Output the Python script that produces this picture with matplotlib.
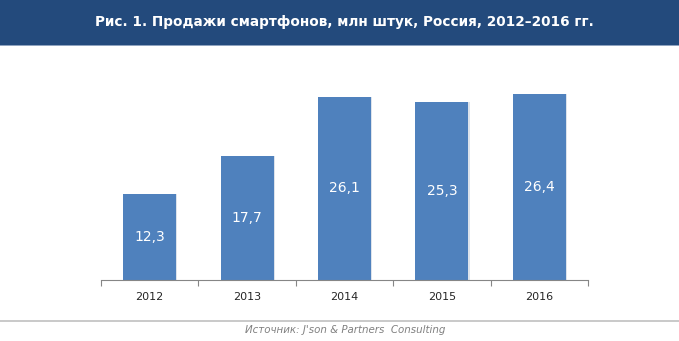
import matplotlib.pyplot as plt
from matplotlib.patches import Rectangle

years = ['2012', '2013', '2014', '2015', '2016']
sales = [12.3, 17.7, 26.1, 25.3, 26.4]
labels = ['12,3', '17,7', '26,1', '25,3', '26,4']

W, H = 679, 341
fig = plt.figure(figsize=(W / 100, H / 100), dpi=100)
fig.patch.set_facecolor('white')

# title band
fig.patches.append(Rectangle((0, 1 - 45 / H), 1, 45 / H, transform=fig.transFigure,
                             facecolor='#234a7c', edgecolor='none', zorder=0))
fig.patches.append(Rectangle((0, 1 - 46 / H), 1, 1.2 / H, transform=fig.transFigure,
                             facecolor='#8fa3bf', edgecolor='none', zorder=0))
fig.text(344 / W, 1 - 22 / H, 'Рис. 1. Продажи смартфонов, млн штук, Россия, 2012–2016 гг.',
         ha='center', va='center', color='white', fontsize=9.8, fontweight='bold',
         family='DejaVu Sans')

# plot area: baseline at y=280, x from 101 to 588
left, right = 101 / W, 588 / W
bottom, top = 1 - 280 / H, 1 - 70 / H
ax = fig.add_axes([left, bottom, right - left, top - bottom])
ax.set_xlim(-0.5, len(years) - 0.5)
ax.set_ylim(0, 210 / 7.03)

x = range(len(years))
ax.bar([i + 0.012 for i in x], sales, width=0.545, color='#dde3eb', zorder=1)
ax.bar(x, sales, width=0.545, color='#4f81bd', zorder=2)

for i, (v, t) in enumerate(zip(sales, labels)):
    ax.text(i, v / 2, t, ha='center', va='center', color='white', fontsize=10)

for s in ['top', 'left', 'right']:
    ax.spines[s].set_visible(False)
ax.spines['bottom'].set_color('#868686')
ax.spines['bottom'].set_linewidth(0.8)
ax.set_yticks([])
ax.set_xticks([i - 0.5 for i in range(len(years) + 1)])
ax.set_xticklabels([])
ax.tick_params(axis='x', length=4, color='#868686', width=0.8)
for i, y in enumerate(years):
    ax.text(i, -17 / 7.03, y, ha='center', va='center', fontsize=8, color='#262626')

# footer
fig.add_artist(plt.Line2D([0, 1], [1 - 321 / H] * 2, transform=fig.transFigure,
                          color='#c0c0c0', linewidth=1.2))
fig.text(345 / W, 1 - 330 / H, 'Источник: J\'son & Partners  Consulting', ha='center', va='center',
         fontsize=7.4, style='italic', color='#808080')

fig.savefig('out.png', dpi=100)
